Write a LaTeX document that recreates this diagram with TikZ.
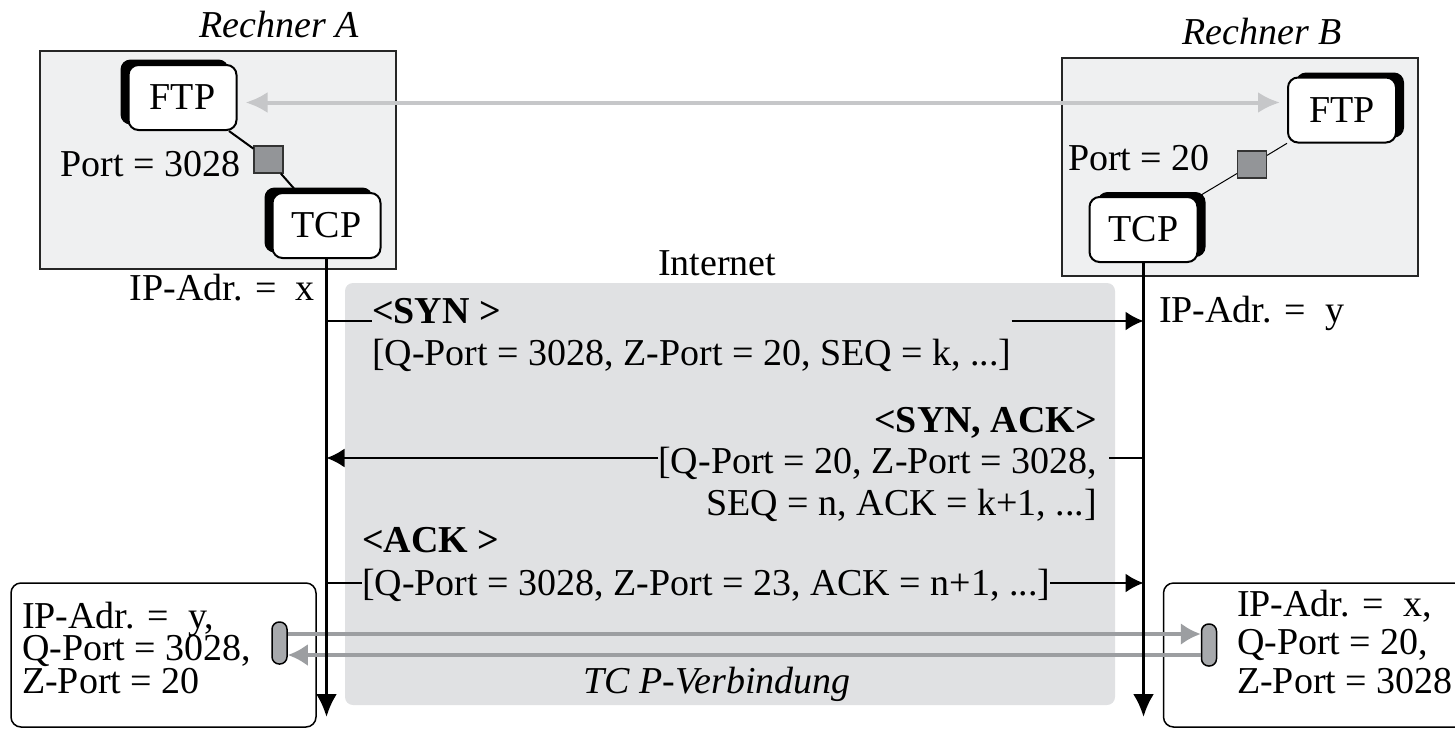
\documentclass[tikz,border=0pt]{standalone}
\usepackage{fontspec}
\setmainfont{Liberation Serif}
\usetikzlibrary{arrows.meta}
\usetikzlibrary{shadows}

\definecolor{rechnerbg}{HTML}{EFF0F1}
\definecolor{netzbg}{HTML}{E0E1E3}
\definecolor{ftpgrau}{HTML}{C6C7C9}
\definecolor{portgrau}{HTML}{939598}
\definecolor{stopfengrau}{HTML}{A7A9AC}
\definecolor{verbgrau}{HTML}{9C9EA1}

\newcommand{\schrift}{\fontsize{19pt}{22pt}\selectfont}
\newcommand{\engschrift}{\fontsize{19pt}{16.25pt}\selectfont\setlength{\lineskiplimit}{-20pt}}
\newcommand{\weitschrift}{\fontsize{19pt}{19.25pt}\selectfont\setlength{\lineskiplimit}{-20pt}}

\tikzset{
  txt/.style={inner sep=0pt, outer sep=0pt},
  fett/.style={font=\schrift\bfseries},
  kursiv/.style={font=\schrift\itshape},
  block/.style={txt, align=left, anchor=north west},
  rechner/.style={draw=black!85, line width=1pt, fill=rechnerbg, minimum width=178pt, minimum height=109pt, inner sep=0pt},
  netzfeld/.style={fill=netzbg, rounded corners=4pt, minimum width=385pt, minimum height=211pt, inner sep=0pt},
  dienst/.style={draw, line width=1pt, fill=white, rounded corners=5pt, minimum width=54pt, minimum height=32.5pt, inner sep=0pt},
  schattenlinks/.style={drop shadow={shadow xshift=-4pt, shadow yshift=2.75pt, fill=black, opacity=1}},
  schattenrechts/.style={drop shadow={shadow xshift=4pt, shadow yshift=2.5pt, fill=black, opacity=1}},
  portbox/.style={draw=black!80, line width=0.6pt, fill=portgrau, minimum width=14.5pt, minimum height=13.5pt, inner sep=0pt},
  ftppfeil/.style={draw=ftpgrau, line width=2pt, {Latex[length=11pt,width=10.5pt]}-{Latex[length=11pt,width=10.5pt]}},
  lebenslinie/.style={line width=1.6pt, -{Latex[length=11.5pt,width=10.5pt]}},
  segment/.style={line width=1pt},
  nachricht/.style={segment, -{Latex[length=9pt,width=9.5pt]}},
  sockel/.style={draw, line width=0.75pt, rounded corners=5pt, minimum width=152.5pt, minimum height=72pt, inner sep=0pt},
  stopfen/.style={draw, line width=0.75pt, fill=stopfengrau, rounded corners=3.6pt, minimum width=7.5pt, minimum height=21pt, inner sep=0pt},
  verbpfeil/.style={draw=verbgrau, line width=1.75pt, -{Latex[length=10pt,width=11pt]}}
}

\begin{document}
\begin{tikzpicture}[x=0.5pt, y=-0.5pt, font=\schrift]
  \useasboundingbox (0,0) rectangle (1455,728);

  % Internet
  \node[netzfeld] (netz) at (730,494) {};
  \node[txt, anchor=base west] (inet) at (658,275) {Internet};

  % Rechner A
  \node[rechner] (boxA) at (218,160) {};
  \node[txt, kursiv, anchor=base] (nameA) at (279,37) {Rechner A};
  \node[dienst, schattenlinks] (ftpA) at (182.5,97.5) {FTP};
  \node[dienst, schattenlinks] (tcpA) at (326.5,225.5) {TCP};
  \node[portbox] (portA) at (268.5,159.5) {};
  \node[txt, anchor=base east] (portAtxt) at (240,176) {Port = 3028};
  \draw[line width=1pt] (ftpA) -- (portA);
  \draw[line width=1pt] (portA) -- (tcpA);

  % Rechner B
  \node[rechner] (boxB) at (1240,167) {};
  \node[txt, kursiv, anchor=base] (nameB) at (1262,44) {Rechner B};
  \node[dienst, schattenrechts] (ftpB) at (1342,110) {FTP};
  \node[dienst, schattenrechts] (tcpB) at (1143.5,229.5) {TCP};
  \node[portbox] (portB) at (1252,164.5) {};
  \node[txt, anchor=base west] (portBtxt) at (1068,170) {Port = 20};
  \draw[line width=0.5pt] (tcpB) -- (portB);
  \draw[line width=0.5pt] (portB) -- (ftpB);

  % FTP <-> FTP
  \draw[ftppfeil] ([shift={(8,5)}]ftpA.east) -- ([shift={(-7,-7.5)}]ftpB.west);

  % Adressen
  \node[txt, anchor=base east] (ipA) at (315,300) {IP-Adr. = \ x};
  \node[txt, anchor=base west] (ipB) at (1159,322) {IP-Adr. = \ y};

  % Sockel unten
  \node[sockel] (sockA) at (163.5,655) {};
  \node[sockel] (sockB) at (1316,655) {};
  \node[block, font=\engschrift] (sockAtxt) at (22,602)
    {IP-Adr. = \ y,\\Q-Port = 3028,\\Z-Port = 20};
  \node[block, font=\weitschrift] (sockBtxt) at (1237,590)
    {IP-Adr. = \ x,\\Q-Port = 20,\\Z-Port = 3028};

  % TCP-Verbindung
  \node[stopfen] (stA) at (279.5,643) {};
  \node[stopfen] (stB) at (1209,645) {};
  \draw[verbpfeil] ([shift={(0,-9)}]stA.east) -- ([shift={(0,-11)}]stB.west);
  \draw[verbpfeil] ([shift={(0,10)}]stB.west) -- ([shift={(0,12)}]stA.east);
  \node[txt, kursiv, anchor=base] (verb) at (717,693) {TC P-Verbindung};

  % Lebenslinien
  \coordinate (endA) at (326.5,717);
  \coordinate (endB) at (1143.5,717);
  \draw[lebenslinie] (tcpA.south) -- (endA);
  \draw[lebenslinie] (tcpB.south) -- (endB);

  % SYN
  \coordinate (synA) at (326.5,321);
  \coordinate (synB) at (1143.5,321);
  \node[txt, fett, anchor=base west] (synK) at (372,323) {<SYN >};
  \node[txt, anchor=base west] (synP) at (372,365) {[Q-Port = 3028, Z-Port = 20, SEQ = k, ...]};
  \draw[segment] (synA) -- (synA -| synK.west);
  \draw[nachricht] (synB -| synP.east) -- (synB);

  % SYN, ACK
  \coordinate (sakA) at (326.5,458);
  \coordinate (sakB) at (1143.5,458);
  \coordinate (sakR) at (1109,458);
  \node[txt, fett, anchor=base east] (sakK) at (1097,432) {<SYN, ACK>};
  \node[txt, anchor=base east] (sakP) at (1097,473) {[Q-Port = 20, Z-Port = 3028,};
  \node[txt, anchor=base east] (sakQ) at (1097,515) {SEQ = n, ACK = k+1, ...]};
  \draw[segment] (sakB) -- (sakR);
  \draw[nachricht] (sakA -| sakP.west) -- (sakA);

  % ACK
  \coordinate (ackA) at (326.5,583);
  \coordinate (ackB) at (1143.5,583);
  \node[txt, fett, anchor=base west] (ackK) at (362,552) {<ACK >};
  \node[txt, anchor=base west] (ackP) at (362,595) {[Q-Port = 3028, Z-Port = 23, ACK = n+1, ...]};
  \draw[segment] (ackA) -- (ackA -| ackP.west);
  \draw[nachricht] (ackB -| ackP.east) -- (ackB);

\end{tikzpicture}
\end{document}
